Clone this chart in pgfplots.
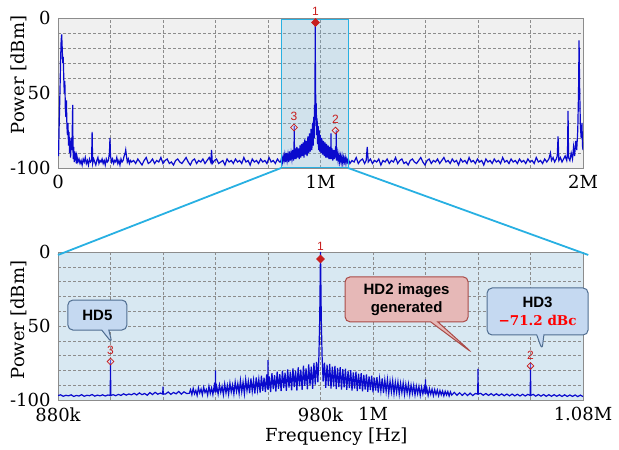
\documentclass[border=0pt]{standalone}
\usepackage{fontspec}
\setmainfont{DejaVu Serif}
\setsansfont{Liberation Sans}
\usepackage{pgfplots}
\pgfplotsset{compat=1.18}
\usetikzlibrary{shapes.callouts,shapes.geometric}
\definecolor{specblue}{RGB}{10,10,205}
\definecolor{gridgray}{RGB}{140,140,140}
\definecolor{framegray}{RGB}{140,140,140}
\definecolor{topbg}{RGB}{240,240,240}
\definecolor{botbg}{RGB}{216,232,242}
\definecolor{zoomcyan}{RGB}{40,176,226}
\definecolor{zoomfill}{RGB}{120,185,225}
\definecolor{mkred}{RGB}{200,30,30}
\definecolor{callblue}{RGB}{197,217,241}
\definecolor{callblueb}{RGB}{80,110,145}
\definecolor{callpink}{RGB}{230,184,183}
\definecolor{callpinkb}{RGB}{170,75,72}
\tikzset{
  mk/.style={diamond, draw=mkred, line width=0.8pt, inner sep=0pt, minimum size=8pt},
  mknum/.style={text=mkred, font=\sffamily\fontsize{12}{12}\selectfont, inner sep=0pt},
}
\pgfplotsset{
  spec/.style={
    scale only axis, width=525pt,
    ymin=-100, ymax=0,
    axis line style={framegray, line width=0.9pt},
    grid=major,
    grid style={densely dashed, gridgray, line width=0.45pt},
    major tick length=0pt,
    tick label style={font=\fontsize{18}{20}\selectfont},
    label style={font=\fontsize{18}{20}\selectfont},
    /pgf/number format/assume math mode=true,
    clip mode=individual,
    ytick={-100,-90,...,0},
    yticklabels={-100,,,,,50,,,,,0},
    yticklabel style={xshift=-4pt},
    xticklabel style={yshift=-4pt},
  },
}
\begin{document}
\begin{tikzpicture}
\useasboundingbox (0,0) rectangle (619pt,450pt);
% ---------------- top axis ----------------
\begin{axis}[spec,
  at={(58pt,282pt)}, anchor=south west, height=150pt,
  xmin=0, xmax=2000,
  axis background/.style={fill=topbg},
  xtick={0,200,...,2000},
  xticklabels={0,,,,,1M,,,,,2M},
  ylabel={Power [dBm]},
  ylabel style={at={(axis description cs:-0.075,0.62)}, anchor=center},
]
\fill[zoomfill, fill opacity=0.25] (axis cs:850,-100) rectangle (axis cs:1105,-1.3);
\addplot[specblue, line width=1.2pt, mark=none] coordinates {
(0,-82) (2,-92) (4,-75) (6,-60) (8,-45) (10,-28) (12,-15) (14,-11) (16,-20) (18,-30)
(20,-26) (22,-40) (24,-50) (26,-42) (28,-60) (30,-66) (32,-55) (34,-72) (36,-78) (38,-70)
(40,-85) (42,-76) (44,-90) (46,-82) (48,-93) (50,-80) (52,-88) (54,-78) (56,-58) (57,-85)
(58,-94) (60,-86) (62,-96) (64,-89) (66,-95) (68,-90) (70,-97) (72,-92) (76,-96) (80,-94)
(84,-97) (88,-95) (92,-98) (96,-94) (100,-96) (104,-93) (108,-97) (112,-95) (116,-98) (120,-94)
(124,-96) (128,-95) (130,-76) (132,-97) (136,-94) (140,-96) (144,-98) (148,-95) (152,-93) (156,-97)
(160,-95) (164,-96) (168,-94) (172,-97) (176,-95) (180,-98) (184,-94) (188,-96) (192,-95) (196,-90)
(198,-80) (200,-92) (204,-96) (208,-94) (212,-97) (216,-95) (220,-96) (224,-93) (228,-97) (232,-95)
(236,-98) (240,-94) (244,-96) (248,-95) (252,-92) (256,-90) (258,-88) (260,-91) (264,-96) (268,-94)
(272,-97) (276,-95) (280,-96) (288,-95) (296,-97) (304,-94) (312,-96) (320,-98) (328,-95) (336,-93)
(344,-97) (352,-96) (360,-94) (368,-97) (376,-95) (384,-96) (392,-93) (400,-97) (408,-95) (416,-94)
(424,-97) (432,-96) (440,-98) (448,-95) (456,-94) (464,-96) (472,-97) (480,-95) (488,-93) (496,-96)
(504,-98) (512,-95) (520,-94) (528,-97) (536,-95) (544,-96) (552,-94) (560,-97) (568,-95) (576,-93)
(582,-96) (585,-88) (588,-97) (596,-95) (604,-94) (612,-97) (620,-96) (628,-95) (636,-98) (644,-94)
(652,-96) (660,-95) (668,-97) (676,-94) (684,-96) (692,-95) (700,-97) (708,-93) (716,-96) (724,-95)
(732,-98) (740,-94) (748,-96) (756,-95) (764,-97) (772,-94) (780,-96) (788,-95) (796,-97) (804,-93)
(812,-96) (820,-95) (828,-97) (836,-94) (844,-96)
(848,-96) (852,-93) (855,-96) (858,-92) (861,-95) (864,-91) (867,-96) (870,-90) (873,-95) (876,-91)
(879,-96) (882,-89) (885,-95) (888,-90) (891,-94) (894,-88) (897,-95) (899,-90) (900,-72) (901,-94)
(904,-87) (907,-94) (910,-86) (913,-93) (916,-87) (919,-94) (922,-85) (925,-93) (928,-84) (931,-92)
(934,-83) (937,-93) (940,-81) (943,-91) (946,-82) (949,-92) (952,-79) (955,-90) (958,-77) (961,-89)
(964,-74) (967,-88) (970,-70) (972,-85) (974,-66) (976,-80) (977,-58) (978,-72) (979,-50) (980,-3)
(981,-50) (982,-52) (983,-68) (984,-57) (985,-78) (987,-67) (989,-84) (991,-72) (993,-88) (995,-75)
(997,-89) (999,-78) (1002,-90) (1005,-80) (1008,-91) (1011,-82) (1014,-92) (1017,-83) (1020,-93) (1023,-84)
(1026,-93) (1029,-85) (1032,-94) (1035,-86) (1038,-94) (1039,-92) (1040,-77) (1041,-94) (1044,-87) (1047,-95)
(1050,-88) (1053,-94) (1056,-89) (1059,-93) (1060,-75) (1061,-95) (1064,-90) (1067,-95) (1070,-91) (1073,-96)
(1076,-92) (1079,-96) (1082,-92) (1085,-97) (1088,-93) (1091,-96) (1094,-93) (1097,-97) (1100,-94) (1103,-96)
(1106,-94)
(1112,-97) (1120,-95) (1128,-96) (1136,-93) (1144,-97) (1152,-95) (1160,-94) (1168,-97) (1174,-95) (1178,-86)
(1182,-96) (1190,-94) (1198,-97) (1206,-95) (1214,-96) (1222,-94) (1230,-98) (1238,-95) (1246,-96) (1254,-94)
(1262,-97) (1270,-95) (1278,-96) (1286,-93) (1294,-97) (1302,-95) (1310,-94) (1318,-97) (1326,-96) (1334,-98)
(1342,-95) (1350,-94) (1358,-96) (1366,-97) (1374,-95) (1382,-93) (1390,-96) (1398,-98) (1406,-95) (1414,-94)
(1422,-97) (1430,-95) (1438,-96) (1446,-94) (1454,-97) (1462,-95) (1470,-93) (1478,-96) (1486,-95) (1494,-97)
(1502,-94) (1510,-96) (1518,-95) (1526,-98) (1534,-94) (1542,-96) (1550,-95) (1558,-97) (1566,-93) (1574,-96)
(1582,-95) (1590,-97) (1598,-94) (1606,-96) (1614,-95) (1622,-98) (1630,-94) (1638,-96) (1646,-95) (1654,-97)
(1662,-94) (1670,-96) (1678,-95) (1686,-97) (1694,-93) (1702,-96) (1710,-95) (1718,-97) (1726,-94) (1734,-96)
(1742,-95) (1750,-97) (1758,-94) (1766,-96) (1774,-95) (1782,-97) (1790,-94) (1798,-96) (1806,-95) (1814,-97)
(1822,-93) (1830,-96) (1838,-95) (1846,-97) (1854,-94) (1862,-96) (1870,-94) (1876,-90) (1880,-95) (1886,-93)
(1892,-96) (1898,-94) (1902,-92) (1905,-79) (1908,-95) (1914,-93) (1920,-96) (1926,-94) (1932,-92) (1938,-95)
(1941,-90) (1943,-62) (1945,-93) (1950,-95) (1955,-90) (1960,-94) (1964,-86) (1968,-92) (1972,-82) (1976,-88)
(1980,-75) (1983,-50) (1985,-15) (1987,-45) (1990,-72) (1993,-80) (1996,-70) (1998,-85) (2000,-88)
};
\draw[zoomcyan, line width=1pt] (axis cs:850,-100) rectangle (axis cs:1105,-1.3);
\node[mk, fill=mkred] at (axis cs:981,-3) {};
\node[mknum] at (axis cs:981,4.5) {1};
\node[mk, fill=white, fill opacity=0.3, minimum size=7pt] at (axis cs:899,-73) {};
\node[mknum] at (axis cs:899,-65.5) {3};
\node[mk, fill=white, fill opacity=0.3, minimum size=7pt] at (axis cs:1057,-75) {};
\node[mknum] at (axis cs:1057,-67.5) {2};
\coordinate (zl) at (axis cs:850,-100);
\coordinate (zr) at (axis cs:1105,-100);
\end{axis}
% ---------------- bottom axis ----------------
\begin{axis}[spec,
  at={(58pt,50pt)}, anchor=south west, height=148pt,
  xmin=880, xmax=1080,
  axis background/.style={fill=botbg},
  xtick={880,900,...,1080},
  xticklabels={880k,,,,,980k,1M,,,,1.08M},
  xlabel={Frequency [Hz]},
  xlabel style={at={(axis description cs:0.53,-0.25)}, anchor=center},
  ylabel={Power [dBm]},
  ylabel style={at={(axis description cs:-0.075,0.54)}, anchor=center},
]
\addplot[specblue, line width=1.2pt, mark=none] coordinates {
(880,-97) (881,-96.5) (882,-97.5) (883,-96.8) (884,-97.2) (885,-96.5) (886,-97.6) (887,-96.9) (888,-97.3) (889,-96.4)
(890,-97.5) (891,-96.8) (892,-97.1) (893,-96.3) (894,-97.4) (895,-96.7) (896,-97.2) (897,-96.5) (898,-97.3) (899,-96.6)
(899.9,-97) (900,-73) (900.1,-97) (901,-96.4) (902,-97.1) (903,-96.2) (904,-96.9) (905,-95.8) (906,-96.7) (907,-95.9)
(908,-96.5) (909,-95.5) (910,-96.6) (911,-95.2) (912,-96.4) (913,-95.6) (914,-96.8) (915,-95.0) (916,-96.3) (917,-94.8)
(918,-96.1) (919,-95.3) (919.9,-96) (920,-91) (920.1,-96) (921,-95.9) (922,-94.6) (923,-96.2) (924,-94.9) (925,-95.8)
(926,-94.2) (927,-96.0) (928,-94.5) (929,-95.6)
(930.0,-95.5) (930.5,-93.0) (931.0,-96.4) (931.5,-92.2) (932.0,-95.8) (932.5,-93.5) (933.0,-96.9) (933.5,-91.8) (934.0,-95.2) (934.5,-92.6)
(935.0,-96.5) (935.5,-91.4) (936.0,-95.0) (936.5,-92.9) (937.0,-96.7) (937.5,-90.8) (938.0,-95.6) (938.5,-91.9) (939.0,-96.3) (939.5,-90.5)
(939.9,-95) (940.0,-80) (940.1,-95) (940.5,-91.2) (941.0,-96.0) (941.5,-89.9) (942.0,-94.8) (942.5,-90.7) (943.0,-96.4) (943.5,-89.2)
(944.0,-95.3) (944.5,-90.1) (945.0,-96.1) (945.5,-88.6) (946.0,-94.6) (946.5,-89.8) (947.0,-95.9) (947.5,-87.9) (948.0,-94.2) (948.5,-88.9)
(949.0,-95.7) (949.5,-86.8) (950.0,-94.5) (950.5,-88.0) (951.0,-95.8) (951.5,-86.2) (952.0,-93.7) (952.5,-87.4) (953.0,-95.4) (953.5,-85.5)
(954.0,-94.1) (954.5,-86.6) (955.0,-95.6) (955.5,-84.8) (956.0,-93.3) (956.5,-85.9) (957.0,-95.0) (957.5,-83.6) (958.0,-93.8) (958.5,-84.9)
(959.0,-94.7) (959.5,-82.7) (959.9,-93) (960.0,-73) (960.1,-93) (960.5,-84.0) (961.0,-94.6) (961.5,-81.9) (962.0,-92.7) (962.5,-83.2)
(963.0,-94.3) (963.5,-80.8) (964.0,-92.4) (964.5,-82.5) (965.0,-94.0) (965.5,-80.1) (966.0,-92.0) (966.5,-81.6) (967.0,-93.8) (967.5,-79.4)
(968.0,-91.6) (968.5,-80.9) (969.0,-93.5) (969.5,-78.6) (970.0,-91.2) (970.5,-80.2) (971.0,-93.6) (971.5,-77.9) (972.0,-90.8) (972.5,-79.5)
(973.0,-93.1) (973.5,-76.8) (974.0,-90.5) (974.5,-78.7) (975.0,-92.8) (975.5,-75.9) (976.0,-90.1) (976.5,-77.5) (977.0,-92.4) (977.5,-75.0)
(978.0,-89.6) (978.5,-74.2) (979.0,-88.0) (979.4,-70) (979.7,-45) (979.85,-22) (980,0) (980.15,-22) (980.3,-45) (980.6,-70)
(981.0,-87.5) (981.5,-74.8) (982.0,-91.8) (982.5,-76.2) (983.0,-90.4) (983.5,-75.6) (984.0,-92.3) (984.5,-77.4) (985.0,-90.9) (985.5,-76.9)
(986.0,-92.6) (986.5,-78.3) (987.0,-91.2) (987.5,-77.8) (988.0,-93.0) (988.5,-79.2) (989.0,-91.5) (989.5,-78.9) (990.0,-93.2) (990.5,-80.4)
(991.0,-91.9) (991.5,-79.8) (992.0,-93.6) (992.5,-81.3) (993.0,-92.2) (993.5,-80.9) (994.0,-94.0) (994.5,-82.2) (995.0,-92.6) (995.5,-81.8)
(996.0,-94.2) (996.5,-83.1) (997.0,-92.9) (997.5,-82.7) (998.0,-94.5) (998.5,-84.0) (999.0,-93.3) (999.5,-83.6) (1000.0,-94.8) (1000.5,-84.9)
(1001.0,-93.6) (1001.5,-84.5) (1002.0,-95.0) (1002.5,-85.7) (1003.0,-93.9) (1003.5,-85.4) (1004.0,-95.3) (1004.5,-86.5) (1005.0,-94.2) (1005.5,-86.2)
(1006.0,-95.5) (1006.5,-87.3) (1007.0,-94.5) (1007.5,-87.0) (1008.0,-95.7) (1008.5,-88.0) (1009.0,-94.8) (1009.5,-87.8) (1010.0,-96.0) (1010.5,-88.7)
(1011.0,-95.0) (1011.5,-88.6) (1012.0,-96.2) (1012.5,-89.4) (1013.0,-95.3) (1013.5,-89.3) (1014.0,-96.4) (1014.5,-90.0) (1015.0,-95.5) (1015.5,-90.1)
(1016.0,-96.6) (1016.5,-90.7) (1017.0,-95.7) (1017.5,-90.9) (1018.0,-96.8) (1018.5,-91.3) (1019.0,-95.9) (1019.5,-91.6) (1019.9,-96) (1020.0,-86)
(1020.1,-96) (1020.5,-92.0) (1021.0,-96.9) (1021.5,-92.4) (1022.0,-96.1) (1022.5,-92.7) (1023.0,-97.0) (1023.5,-93.0) (1024.0,-96.3) (1024.5,-93.3)
(1025.0,-97.1) (1025.5,-93.6) (1026.0,-96.5) (1026.5,-93.9) (1027.0,-97.2) (1027.5,-94.1) (1028.0,-96.6) (1028.5,-94.3) (1029.0,-97.3) (1029.5,-94.5)
(1030.0,-96.7)
(1031,-94.9) (1032,-96.8) (1033,-95.1) (1034,-96.9) (1035,-95.3) (1036,-97.0) (1037,-95.4) (1038,-97.0) (1039,-95.6) (1039.9,-96)
(1040,-79) (1040.1,-96) (1041,-95.5) (1042,-96.8) (1043,-95.6) (1044,-96.9) (1045,-95.7) (1046,-97.0) (1047,-95.8) (1048,-97.0)
(1049,-95.9) (1050,-97.1) (1051,-96.0) (1052,-97.2) (1053,-96.0) (1054,-97.2) (1055,-96.1) (1056,-97.3) (1057,-96.1) (1058,-97.3)
(1059,-96.2) (1059.9,-97) (1060,-75) (1060.1,-97) (1061,-96.2) (1062,-97.4) (1063,-96.3) (1064,-97.4) (1065,-96.3) (1066,-97.5)
(1067,-96.4) (1068,-97.5) (1069,-96.4) (1070,-97.5) (1071,-96.5) (1072,-97.6) (1073,-96.5) (1074,-97.6) (1075,-96.6) (1076,-97.6)
(1077,-96.6) (1078,-97.7) (1079,-96.7) (1080,-97.7)
};
\node[mk, fill=mkred] at (axis cs:980,-4.7) {};
\node[mknum] at (axis cs:980,4) {1};
\node[mk, fill=white, fill opacity=0.3, minimum size=7pt] at (axis cs:900,-74) {};
\node[mknum] at (axis cs:900,-66.5) {3};
\node[mk, fill=white, fill opacity=0.3, minimum size=7pt] at (axis cs:1060,-77) {};
\node[mknum] at (axis cs:1060,-70) {2};
\node[rectangle callout, rounded corners=5pt, draw=callblueb, line width=1pt, fill=callblue,
  minimum width=59pt, minimum height=30pt, inner sep=2pt,
  font=\sffamily\bfseries\fontsize{15}{17}\selectfont,
  callout absolute pointer={(axis cs:900.6,-61.5)}] at (axis cs:895,-42.6) {HD5};
\node[rectangle callout, rounded corners=5pt, draw=callpinkb, line width=1pt, fill=callpink,
  minimum width=123pt, minimum height=45pt, inner sep=2pt, align=center,
  font=\sffamily\bfseries\fontsize{15}{18}\selectfont,
  callout absolute pointer={(axis cs:1037.7,-68)}] at (axis cs:1012.8,-32) {HD2 images\\generated};
\node[rectangle callout, rounded corners=5pt, draw=callblueb, line width=1pt, fill=callblue,
  minimum width=101pt, minimum height=47pt, inner sep=2pt, align=center,
  font=\sffamily\bfseries\fontsize{15}{18}\selectfont,
  callout absolute pointer={(axis cs:1064.4,-66)}] at (axis cs:1062.7,-40.2)
  {HD3\\{\rmfamily\bfseries\fontsize{13.5}{18}\selectfont\color{red}−71.2 dBc}};
\coordinate (bl) at (axis cs:880,-2);
\coordinate (br) at (axis cs:1082,-2);
\end{axis}
\draw[zoomcyan, line width=1.8pt] (zl) -- (bl);
\draw[zoomcyan, line width=1.8pt] (zr) -- (br);
\end{tikzpicture}
\end{document}
